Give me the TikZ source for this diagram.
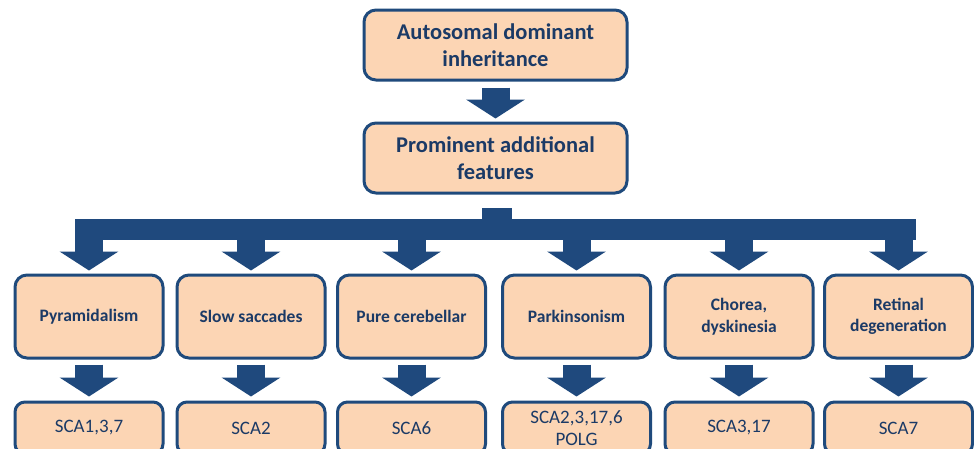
\documentclass[tikz,border=0pt]{standalone}
\usepackage{fontspec}
\setmainfont{Carlito}
\usetikzlibrary{arrows.meta,calc}
\definecolor{boxfill}{HTML}{FCD5B4}
\definecolor{boxline}{HTML}{1F4A7C}
\definecolor{arrowcol}{HTML}{1F497D}
\definecolor{txt}{HTML}{1B3A66}
\tikzset{
  topbox/.style={draw=boxline, fill=boxfill, line width=3pt, rounded corners=12pt,
    minimum width=263pt, minimum height=70pt, inner sep=0pt, align=center,
    text=txt, font=\fontsize{22.5}{27}\selectfont\bfseries},
  featbox/.style={draw=boxline, fill=boxfill, line width=3pt, rounded corners=12pt,
    minimum width=148pt, minimum height=83pt, inner sep=0pt, align=center,
    text=txt, font=\fontsize{17.5}{21.5}\selectfont\bfseries},
  genebox/.style={draw=boxline, fill=boxfill, line width=3pt, rounded corners=10pt,
    minimum width=148pt, minimum height=52pt, inner sep=0pt, align=center,
    text=txt, font=\fontsize{19}{22}\selectfont},
  blockarrow/.style={draw=arrowcol, line width=28pt,
    -{Triangle[width=58pt,length=19pt]}},
}
\begin{document}
\begin{tikzpicture}[x=1pt,y=-1pt]
\useasboundingbox (0,0) rectangle (974,448);
\clip (0,0) rectangle (974,448);
\fill[white] (0,0) rectangle (974,448);

\node[topbox] (top) at (495.5,45) {Autosomal dominant\\inheritance};
\node[topbox] (mid) at (495.5,158) {Prominent additional\\features};

\node[featbox] (f1) at (89,316.5) {Pyramidalism};
\node[featbox] (f2) at (251,316.5) {Slow saccades};
\node[featbox] (f3) at (411.5,316.5) {Pure cerebellar};
\node[featbox] (f4) at (576.5,316.5) {Parkinsonism};
\node[featbox] (f5) at (739,316.5) {Chorea,\\dyskinesia};
\node[featbox] (f6) at (898.5,316.5) {Retinal\\degeneration};

\node[genebox] (g1) at (89,428) {SCA1,3,7};
\node[genebox] (g2) at (251,428) {SCA2};
\node[genebox] (g3) at (411.5,428) {SCA6};
\node[genebox] (g4) at (576.5,428) {SCA2,3,17,6\\POLG};
\node[genebox] (g5) at (739,428) {SCA3,17};
\node[genebox] (g6) at (898.5,428) {SCA7};

% top arrow
\draw[blockarrow] ([yshift=-6pt]top.south) -- ([yshift=3pt]mid.north);

% bracket
\coordinate (stubtop) at ([yshift=-13pt]mid.south);
\coordinate (bar) at (0,230);
\fill[arrowcol] ([xshift=-14pt]stubtop) rectangle ([xshift=16pt]stubtop |- 0,222);
\fill[arrowcol] ([xshift=-14pt]f1.north |- 0,219) rectangle ([xshift=17pt]f6.north |- 0,240);
\foreach \i in {1,...,6}{
  \draw[blockarrow] ([yshift=-10pt]f\i.north |- bar) -- ([yshift=3pt]f\i.north);
  \draw[blockarrow] ([yshift=-5pt]f\i.south) -- ([yshift=4pt]g\i.north);
}
\end{tikzpicture}
\end{document}
